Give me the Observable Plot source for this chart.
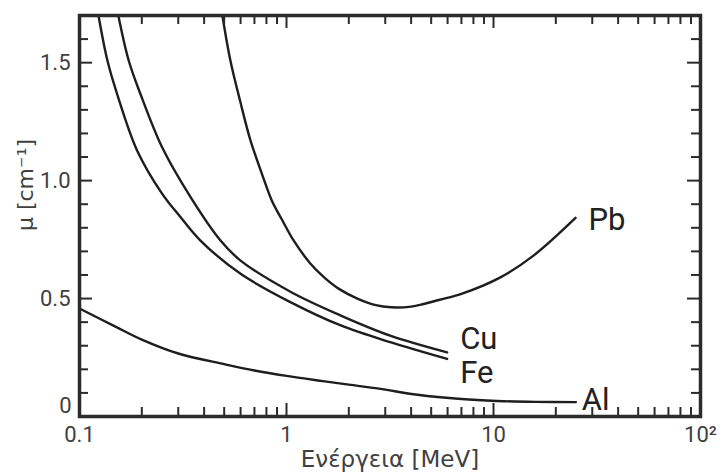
<!DOCTYPE html>
<html>
<head>
<meta charset="utf-8">
<script src="https://cdn.jsdelivr.net/npm/d3@7"></script>
<script src="https://cdn.jsdelivr.net/npm/@observablehq/plot@0.6"></script>
<style>
  html, body { margin: 0; padding: 0; background: #fff; }
</style>
</head>
<body>
<div id="chart"></div>
<script>
// ---- data ----
const materials = ["Pb", "Cu", "Fe", "Al"];

const energyPb = [0.49, 0.536, 0.6, 0.67, 0.76, 0.85, 0.95, 1.09, 1.3, 1.52, 1.8, 2.2, 2.7, 3.2, 4, 4.6, 5.5, 7, 10.8, 15.6, 24.9];
const muPb     = [1.7, 1.508, 1.33, 1.17, 1.03, 0.915, 0.835, 0.742, 0.65, 0.59, 0.54, 0.5, 0.472, 0.463, 0.466, 0.477, 0.495, 0.52, 0.59, 0.682, 0.842];

const energyCu = [0.154, 0.173, 0.197, 0.251, 0.344, 0.48, 0.6, 1.05, 1.83, 3.17, 5.97];
const muCu     = [1.7, 1.508, 1.367, 1.14, 0.93, 0.746, 0.661, 0.528, 0.428, 0.343, 0.272];

const energyFe = [0.1235, 0.1365, 0.152, 0.19, 0.251, 0.308, 0.384, 0.6, 1.05, 1.83, 3.17, 5.97];
const muFe     = [1.7, 1.508, 1.367, 1.127, 0.944, 0.845, 0.746, 0.605, 0.484, 0.386, 0.315, 0.244];

const energyAl = [0.1, 0.15, 0.2, 0.3, 0.5, 0.7, 1, 1.5, 2, 2.8, 4.3, 7, 10.4, 16, 25];
const muAl     = [0.458, 0.38, 0.326, 0.267, 0.222, 0.195, 0.172, 0.15, 0.135, 0.118, 0.092, 0.074, 0.066, 0.062, 0.061];

const xTickValues = [0.1, 1, 10, 100];
const xTickLabels = ["0.1", "1", "10", "10²"];
const xMajorInner = [1, 10];
const xMinorTicks = [0.2, 0.3, 0.4, 0.5, 0.6, 0.7, 0.8, 0.9,
                     2, 3, 4, 5, 6, 7, 8, 9,
                     20, 30, 40, 50, 60, 70, 80, 90];

const yTickValues = [0.5, 1.0, 1.5];
const yTickLabels = ["0.5", "1.0", "1.5"];
const yZeroLabel = ["0"];
const yMajorInner = [0.5, 1.0, 1.5];
const yMinorTicks = [0.1, 0.2, 0.3, 0.4, 0.6, 0.7, 0.8, 0.9, 1.1, 1.2, 1.3, 1.4, 1.6];

const xLabel = "Ενέργεια [MeV]";
const yLabel = "μ [cm⁻¹]";

// ---- build table ----
const series = {
  Pb: [energyPb, muPb],
  Cu: [energyCu, muCu],
  Fe: [energyFe, muFe],
  Al: [energyAl, muAl]
};
const rows = materials.flatMap(m => series[m][0].map((E, i) => ({material: m, E, mu: series[m][1][i]})));
const lastPoint = m => {
  const [e, u] = series[m];
  return [{material: m, E: e[e.length - 1], mu: u[u.length - 1]}];
};

// ---- layout / styles ----
const W = 722, H = 475, ML = 79, MR = 22, MT = 15, MB = 59;
const plotW = W - ML - MR, plotH = H - MT - MB;
const ink = "#2b2b2b";
const textInk = "#404040";
const font = "Roboto, 'Liberation Sans', sans-serif";
const titleFont = "'DejaVu Sans', Roboto, sans-serif";
const labelOffsets = {Pb: [13, 2], Cu: [13, -13.5], Fe: [13, 14.5], Al: [6, -2.5]};
const minorLen = 9, majorLen = 13;

const chart = Plot.plot({
  width: W,
  height: H,
  marginLeft: ML,
  marginRight: MR,
  marginTop: MT,
  marginBottom: MB,
  style: {fontFamily: font},
  x: {type: "log", domain: [0.1, 100]},
  y: {domain: [0, 1.7]},
  marks: [
    // curves
    Plot.line(rows, {x: "E", y: "mu", z: "material", curve: "catmull-rom", stroke: "#1e1e1e", strokeWidth: 2.4}),
    // inward ticks on all four sides
    Plot.tickX(xMinorTicks, {x: d => d, insetTop: plotH - minorLen, stroke: ink, strokeWidth: 2}),
    Plot.tickX(xMajorInner, {x: d => d, insetTop: plotH - majorLen, stroke: ink, strokeWidth: 2}),
    Plot.tickX(xMinorTicks, {x: d => d, insetBottom: plotH - minorLen, stroke: ink, strokeWidth: 2}),
    Plot.tickX(xMajorInner, {x: d => d, insetBottom: plotH - majorLen, stroke: ink, strokeWidth: 2}),
    Plot.tickY(yMinorTicks, {y: d => d, insetRight: plotW - minorLen, stroke: ink, strokeWidth: 2}),
    Plot.tickY(yMajorInner, {y: d => d, insetRight: plotW - majorLen, stroke: ink, strokeWidth: 2}),
    Plot.tickY(yMinorTicks, {y: d => d, insetLeft: plotW - minorLen, stroke: ink, strokeWidth: 2}),
    Plot.tickY(yMajorInner, {y: d => d, insetLeft: plotW - majorLen, stroke: ink, strokeWidth: 2}),
    // axis tick labels
    Plot.axisX(xTickValues, {
      tickSize: 0, tickPadding: 10, fontSize: 22, fill: textInk, label: null,
      tickFormat: d => xTickLabels[xTickValues.indexOf(d)]
    }),
    Plot.axisY(yTickValues, {
      tickSize: 0, tickPadding: 9, fontSize: 22, fill: textInk, label: null,
      tickFormat: d => yTickLabels[yTickValues.indexOf(d)]
    }),
    Plot.text(yZeroLabel, {frameAnchor: "bottom-left", dx: -14, dy: -4, fontSize: 22, fill: textInk, textAnchor: "middle", text: d => d}),
    // axis titles
    Plot.text([xLabel], {frameAnchor: "bottom", dy: 50, fontSize: 23, fontFamily: titleFont, fill: textInk, text: d => d}),
    Plot.text([yLabel], {frameAnchor: "left", dx: -54, dy: -31, rotate: -90, textAnchor: "middle", fontSize: 22, fontFamily: titleFont, fill: textInk, text: d => d}),
    // curve labels
    ...materials.map(m => Plot.text(lastPoint(m), {
      x: "E", y: "mu", text: "material", textAnchor: "start", lineAnchor: "middle",
      dx: labelOffsets[m][0], dy: labelOffsets[m][1], fontSize: 31, fill: "#222"
    })),
    Plot.frame({stroke: ink, strokeWidth: 3.5})
  ]
});

document.getElementById("chart").appendChild(chart);
</script>
</body>
</html>
